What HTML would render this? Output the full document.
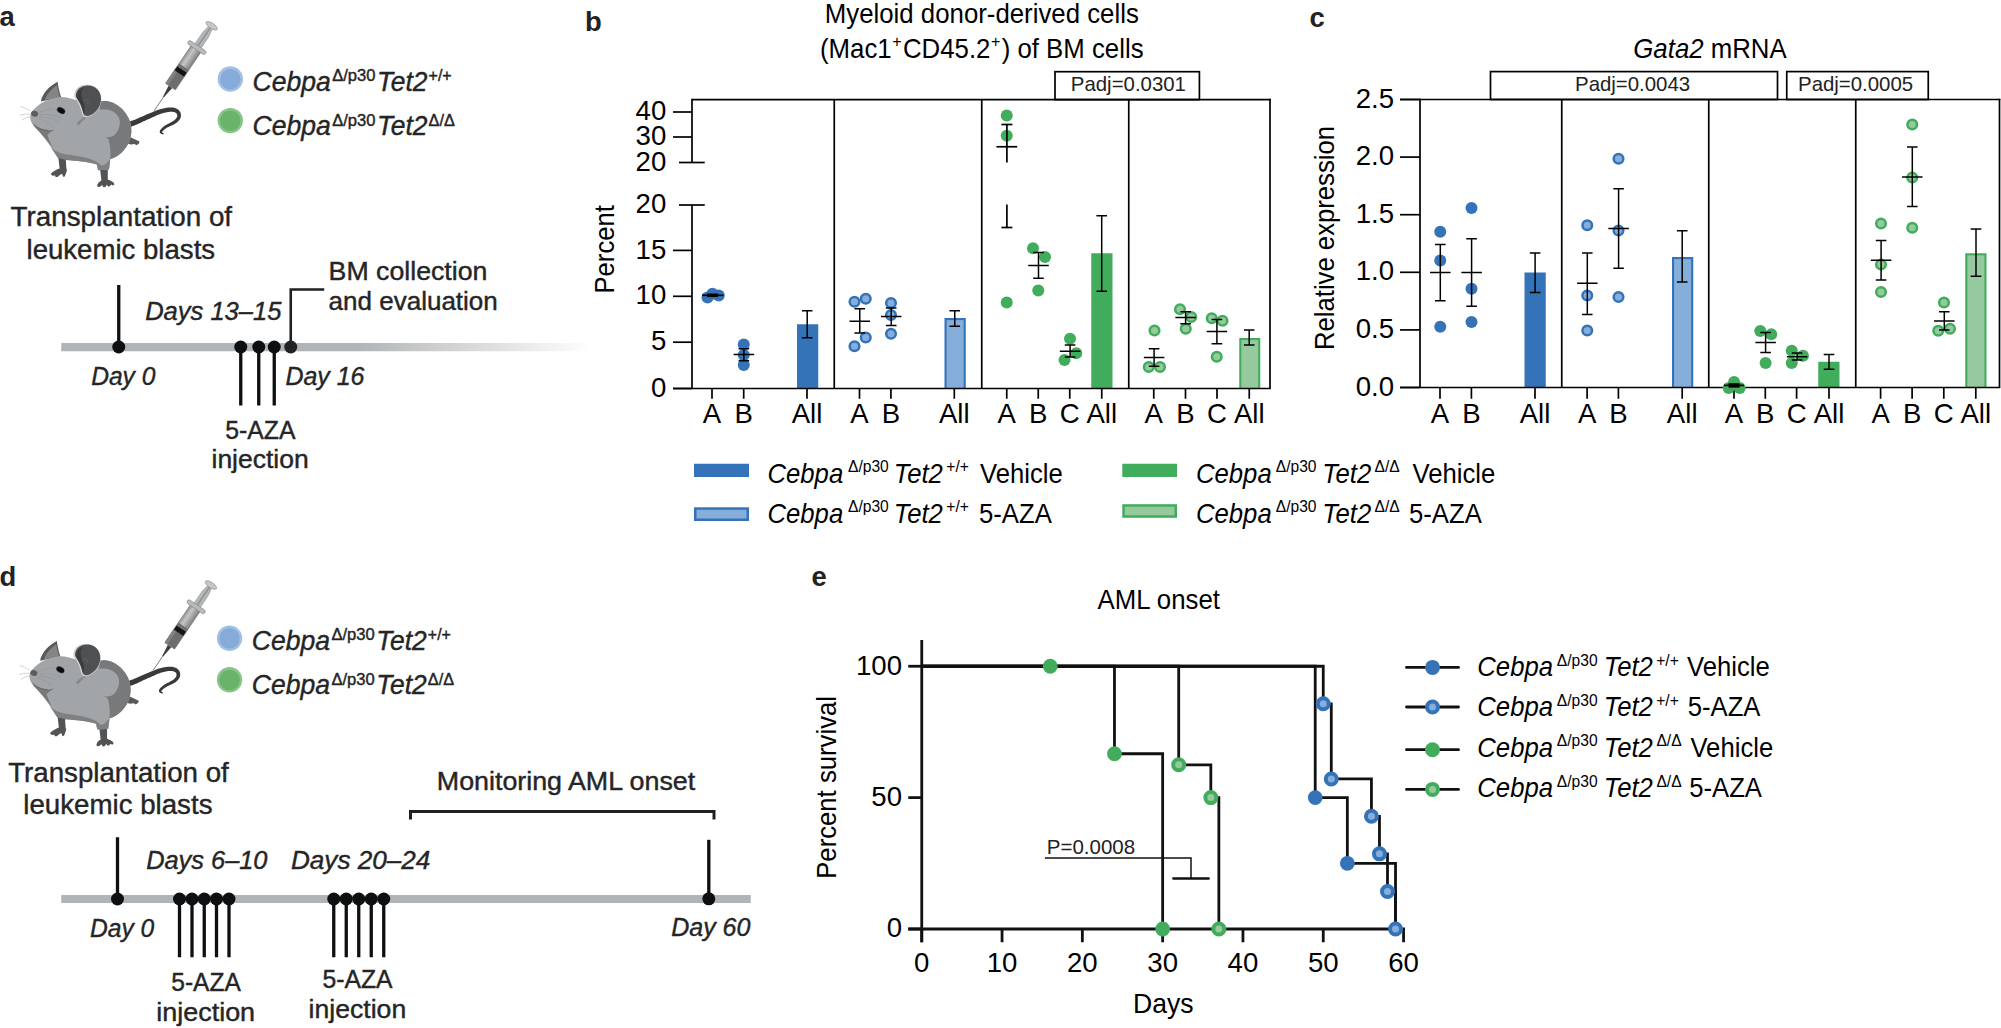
<!DOCTYPE html>
<html lang="en"><head><meta charset="utf-8"><title>Figure</title>
<style>
html,body{margin:0;padding:0;background:#fff;}
body{width:2001px;height:1028px;overflow:hidden;}
svg{display:block;font-family:"Liberation Sans",sans-serif;}
</style></head><body>
<svg width="2001" height="1028" viewBox="0 0 2001 1028">
<rect width="2001" height="1028" fill="#fff"/>

<defs>
<linearGradient id="fade" x1="0" y1="0" x2="1" y2="0">
<stop offset="0" stop-color="#b1b4b6"/><stop offset="0.555" stop-color="#b1b4b6"/><stop offset="1" stop-color="#ffffff"/>
</linearGradient>
<linearGradient id="barrel" x1="0" y1="0" x2="1" y2="0">
<stop offset="0" stop-color="#8e9092"/><stop offset="0.35" stop-color="#c4c6c8"/><stop offset="0.6" stop-color="#a9abad"/><stop offset="1" stop-color="#7c7e80"/>
</linearGradient>
<g id="mouse">
<!-- tail -->
<path d="M131.2 126.7 L132.8 126.1 L134.4 125.5 L136.0 124.8 L137.5 124.2 L139.0 123.5 L140.3 122.9 L141.7 122.2 L143.0 121.6 L144.5 120.9 L146.0 120.2 L147.5 119.5 L149.0 118.9 L150.5 118.2 L152.1 117.5 L153.7 116.8 L155.1 116.2 L156.4 115.6 L157.6 115.1 L158.7 114.6 L159.8 114.2 L160.9 113.8 L162.1 113.4 L163.3 113.1 L164.4 112.8 L165.4 112.6 L166.2 112.4 L167.0 112.2 L167.8 112.1 L168.7 111.9 L169.6 111.8 L170.4 111.8 L171.2 111.7 L171.9 111.7 L172.5 111.8 L173.1 111.9 L173.7 112.0 L174.2 112.1 L174.7 112.3 L175.1 112.5 L175.5 112.7 L175.9 112.9 L176.2 113.2 L176.5 113.4 L176.7 113.7 L176.8 113.9 L177.0 114.1 L177.1 114.4 L177.1 114.8 L177.2 115.2 L177.3 115.7 L177.3 116.1 L177.2 116.4 L177.2 116.7 L177.0 117.0 L176.9 117.4 L176.6 117.8 L176.2 118.3 L175.8 118.8 L175.4 119.3 L174.9 119.7 L174.4 120.2 L173.9 120.5 L173.4 120.9 L172.8 121.3 L172.1 121.7 L171.5 122.1 L170.8 122.4 L170.1 122.8 L169.4 123.2 L168.7 123.5 L167.9 123.9 L167.1 124.3 L166.4 124.7 L165.7 125.1 L165.0 125.6 L164.4 126.0 L163.7 126.5 L163.1 127.0 L162.5 127.5 L162.0 128.0 L161.5 128.4 L161.1 128.9 L160.7 129.4 L160.3 129.9 L160.0 130.4 L159.8 131.0 L159.7 131.6 L159.8 132.2 L160.0 132.7 L160.4 133.2 L160.8 133.6 L161.3 133.9 L161.9 134.1 L162.5 134.2 L163.0 134.3 L163.5 134.4 L163.9 133.4 L163.4 133.2 L162.9 132.9 L162.5 132.7 L162.3 132.5 L162.2 132.3 L162.1 132.1 L162.2 131.9 L162.2 131.8 L162.2 131.8 L162.3 131.7 L162.3 131.5 L162.5 131.3 L162.7 131.0 L163.0 130.7 L163.4 130.4 L163.8 130.0 L164.3 129.6 L164.8 129.2 L165.4 128.8 L166.0 128.4 L166.6 128.0 L167.2 127.6 L167.8 127.3 L168.5 126.9 L169.2 126.6 L169.9 126.3 L170.7 125.9 L171.5 125.6 L172.2 125.2 L173.0 124.9 L173.7 124.5 L174.4 124.1 L175.1 123.7 L175.8 123.2 L176.5 122.8 L177.1 122.3 L177.7 121.7 L178.4 121.1 L178.9 120.4 L179.4 119.8 L179.8 119.2 L180.2 118.6 L180.5 117.9 L180.8 117.2 L180.9 116.4 L180.9 115.6 L180.9 114.9 L180.9 114.2 L180.7 113.5 L180.6 112.9 L180.3 112.2 L179.9 111.5 L179.4 110.9 L178.9 110.3 L178.3 109.8 L177.7 109.3 L177.0 108.9 L176.3 108.5 L175.5 108.2 L174.7 108.0 L173.9 107.8 L173.1 107.6 L172.2 107.5 L171.2 107.5 L170.2 107.5 L169.2 107.5 L168.2 107.6 L167.2 107.7 L166.3 107.8 L165.4 108.0 L164.4 108.2 L163.4 108.4 L162.2 108.7 L160.9 109.0 L159.6 109.4 L158.2 109.8 L157.0 110.3 L155.8 110.8 L154.6 111.3 L153.3 111.8 L151.8 112.4 L150.2 113.0 L148.6 113.7 L147.0 114.3 L145.5 115.0 L143.9 115.7 L142.4 116.4 L141.0 117.0 L139.5 117.6 L138.2 118.3 L136.9 118.8 L135.5 119.4 L134.0 120.0 L132.5 120.6 L130.9 121.1 L129.4 121.7Z" fill="#38393b"/>
<!-- hind foot -->
<path d="M127.5 137 L131 137.5 L139.5 141.5 L139 143.5 L136.5 145.3 L134.5 144 L131 144.5 L127 143.5 Z" fill="#58595b"/>
<!-- far ear -->
<path d="M40.8 101.5 C42.5 93 49.5 86 57.6 81.8 C58.3 87 59.5 93 61.2 97.2 Z" fill="#58595b"/>
<path d="M44.5 100 C47 93.5 52 88.5 57 85 C57.6 89.5 58.8 94 60.2 97.6 Z" fill="#828486"/>
<!-- body -->
<path d="M30.8 113.5 C33 109.5 37.5 105.5 41.5 103 C47 100 54 97.5 60.5 97 C66 96.8 71 98.5 76 100 L100 101.5 C104 100.5 109 101 113 102.8 C119.5 105.8 125.5 111.5 128.8 118.5 C131.5 124.5 132 131 130.8 136.5 C129 144.5 124.5 151 118 155.5 C115.5 157.2 112.5 158.6 110.3 159.2 L109 169.5 L98 170.3 L96.8 164.5 C88 161.8 76 160.8 66 160 L58.2 158.2 C55 153.5 52 149 49.5 145 C46.5 140.5 42.5 135.5 39 131.5 C35.5 128 32.5 125 31 121.5 C30 119 30 116 30.8 113.5 Z" fill="#a2a5a7"/>
<!-- hind dark crescent -->
<path d="M100 101.5 C104 100.5 109 101 113 102.8 C119.5 105.8 125.5 111.5 128.8 118.5 C131.5 124.5 132 131 130.8 136.5 C129 144.5 124.5 151 118 155.5 C115.5 157.2 112.5 158.6 110.3 159.2 C110.8 152 110.5 145 108.5 139.5 C107.5 137.5 105 136.8 103.5 136.2 C107.5 138 112 137.5 115 134.5 C118.5 130.8 120.5 125 119.6 120 C118.6 114.5 113.5 111 108 109.8 C105 109.2 102 109.3 100 109.8 Z" fill="#78797b"/>
<!-- belly/chest shade -->
<path d="M58.2 158.2 C56 155 53.5 151 51 147.5 C55 151 60 153.5 65 154.2 C75 155.5 86 157 94 160.5 C97 161.8 99.5 163.5 101 165.5 C103 166 106 164.5 108 161.5 L110.3 159.2 L109 169.5 L98 170.3 L96.8 164.5 C88 161.8 76 160.8 66 160 Z" fill="#7e8082"/>
<!-- neck / jaw shade -->
<path d="M32.6 122.6 C35.5 126.3 39.5 128.6 44.5 129.8 C48 130.5 51.5 130.3 54.8 129.4 C51.5 131.4 49 133 47.4 135 C48.6 139 50.6 143.5 53 148 C49 143 44.5 137.5 40 132.5 C37 129.5 33.6 126.2 32.6 122.6 Z" fill="#77787a"/>
<path d="M34.5 125 C38 128.5 43 130.5 48.5 130.3" fill="none" stroke="#5f6062" stroke-width="0.7"/>
<!-- shoulder crease -->
<path d="M76.5 123.5 C80 119 85 116 90 114.5 C86 117.5 82 121 79 125 Z" fill="#85878a"/>
<!-- near ear -->
<path d="M74.2 96 C74 89 79.5 84.6 87 84.6 C95.5 84.6 101.8 91 101.4 99.5 C101 107.5 95.5 114.5 88.5 116.8 C85 117.8 82.5 116.5 81.8 113.5 C80.8 108.5 79 103.5 76 99.5 C75 98.4 74.3 97.2 74.2 96 Z" fill="#cfd0d1"/>
<path d="M75.8 95.6 C76 89.6 81 85.4 87.6 85.4 C95.6 85.4 101.4 91.4 101 99.4 C100.6 107 95.4 113.6 88.9 115.8 C85.9 116.7 83.8 115.5 83.2 112.8 C82.2 108 80.4 103.2 77.5 99.2 C76.5 98 75.8 96.9 75.8 95.6 Z" fill="#4f5052"/>
<path d="M77 95 C77.6 91.5 80 88.6 83.5 87.6 C81.5 90.5 81 94 82 97.5 C83 101 84.5 104.5 84.8 108 C85 110.5 84.6 113 83.6 113.6 C82.6 108.5 80.6 103.2 77.8 99.2 C77 98 76.8 96.5 77 95 Z" fill="#3b3c3e"/>
<path d="M83.6 102 C84 99.6 86.2 98.6 87.6 100.2 C88.4 101.3 88.2 103 87.4 104" fill="none" stroke="#636466" stroke-width="0.9"/>
<!-- eye -->
<ellipse cx="61" cy="110.5" rx="4.6" ry="3.1" transform="rotate(28 61 110.5)" fill="#55565a"/>
<ellipse cx="61.2" cy="110.6" rx="3.9" ry="2.5" transform="rotate(28 61.2 110.6)" fill="#0c0c0d"/>
<!-- nose -->
<ellipse cx="34.6" cy="113.8" rx="3.6" ry="2.9" transform="rotate(15 34.6 113.8)" fill="#5c5d5f"/>
<!-- whiskers -->
<g fill="none" stroke-width="0.45">
<path d="M30.5 111 C27 109 23.5 107.3 20.5 106.4 M30 114.3 C26.5 113.8 23 114.2 19.8 115.3 M30.2 116.6 C27 117.3 24 118.6 21.6 120.2" stroke="#9a9c9e"/>
<path d="M39 112.6 C44 110.2 49 109 53.6 108.8 M40 114.6 C47 114.2 55 115.3 62.4 117.8 M39.4 116.6 C46 117 53 118.8 58.6 121.6 M38.4 118.4 C43.4 120 48.5 122.8 52.8 126.4" stroke="#8d8f91"/>
</g>
<!-- front-left leg + paw -->
<path d="M58.4 158 L65.8 159.8 L66.4 168.6 L67 170.2 L64.8 176.6 L63 176.8 L62.4 174.2 L60.8 174.2 L57.6 177 L55.6 177 L55 175.6 L52.6 175.8 L50.6 174 L52.6 172 L56.8 169.6 L59.6 168.4 Z" fill="#525355"/>
<!-- front-right leg + paw -->
<path d="M100.2 170 L107.8 169.8 L107.8 179.6 L110.8 180.8 L113.6 182.6 L114.4 184.4 L113 185.6 L111 184.6 L110 186.2 L108.2 186.4 L106.8 184.8 L105.4 187 L103.4 187.2 L102.2 185 L100 186.8 L97.6 187 L97.2 185 L98.6 182.4 L101.4 180.4 Z" fill="#525355"/>
</g>
<g id="syringe">
<!-- drawn vertically with needle tip at (0,0) pointing down (y negative = up), rotated later -->
<line x1="0" y1="0" x2="0" y2="-19" stroke="#55565a" stroke-width="0.7"/>
<path d="M-0.5 -17 L0.5 -17 L2.2 -29.5 L-2.2 -29.5 Z" fill="#3d3e40"/>
<rect x="-5.9" y="-48" width="11.8" height="18.5" rx="1.2" fill="#6c6d6f"/>
<rect x="-5.9" y="-48" width="3.2" height="18.5" fill="#7f8183"/>
<rect x="-5.9" y="-75.5" width="11.8" height="28" fill="url(#barrel)"/>
<rect x="-5.9" y="-50.4" width="11.8" height="5" fill="#151516"/>
<rect x="-5.9" y="-53.6" width="11.8" height="3.2" fill="#6e6f71"/>
<rect x="-5.9" y="-75.5" width="11.8" height="46" fill="none" stroke="#77787a" stroke-width="0.6"/>
<rect x="-10.6" y="-78.8" width="21.2" height="4.2" rx="2.1" fill="#b9bbbd" stroke="#808284" stroke-width="0.6"/>
<path d="M-3.8 -78.8 L3.8 -78.8 L3.8 -92 L2.4 -100.5 L-2.4 -100.5 L-3.8 -92 Z" fill="#b4b6b8" stroke="#8a8c8e" stroke-width="0.5"/>
<rect x="-0.7" y="-100" width="1.4" height="21" fill="#8d8f91"/>
<ellipse cx="0" cy="-103" rx="6.6" ry="2.7" fill="#c4c6c8" stroke="#8a8c8e" stroke-width="0.6"/>
</g>
</defs>
<g id="panel-a">
<text x="-0.4" y="26.4" font-size="27.4" text-anchor="start" fill="#222" font-weight="bold">a</text>
<g transform="translate(0 0)">
<use href="#mouse"/>
<use href="#syringe" transform="translate(153.9 111.1) rotate(34.1)"/>
<circle cx="230.3" cy="79" r="12.7" fill="#a3c0e4"/><circle cx="230.3" cy="79.2" r="10.3" fill="#86abd8"/>
<circle cx="230.3" cy="120.6" r="12.7" fill="#89c48a"/><circle cx="230.3" cy="120.8" r="10.3" fill="#69b36b"/>
<text x="252.6" y="90.6" font-size="27" text-anchor="start" fill="#252526" font-style="italic" stroke="#252526" stroke-width="0.4" textLength="78.3" lengthAdjust="spacingAndGlyphs">Cebpa</text>
<text x="332.2" y="81" font-size="16" text-anchor="start" fill="#252526" stroke="#252526" stroke-width="0.4" textLength="43.3" lengthAdjust="spacingAndGlyphs">Δ/p30</text>
<text x="377" y="90.6" font-size="27" text-anchor="start" fill="#252526" font-style="italic" stroke="#252526" stroke-width="0.4" textLength="50.4" lengthAdjust="spacingAndGlyphs">Tet2</text>
<text x="428.6" y="81" font-size="16" text-anchor="start" fill="#252526" stroke="#252526" stroke-width="0.4" textLength="23" lengthAdjust="spacingAndGlyphs">+/+</text>
<text x="252.6" y="134.9" font-size="27" text-anchor="start" fill="#252526" font-style="italic" stroke="#252526" stroke-width="0.4" textLength="78.3" lengthAdjust="spacingAndGlyphs">Cebpa</text>
<text x="332.2" y="125.5" font-size="16" text-anchor="start" fill="#252526" stroke="#252526" stroke-width="0.4" textLength="43.3" lengthAdjust="spacingAndGlyphs">Δ/p30</text>
<text x="377" y="134.9" font-size="27" text-anchor="start" fill="#252526" font-style="italic" stroke="#252526" stroke-width="0.4" textLength="50.4" lengthAdjust="spacingAndGlyphs">Tet2</text>
<text x="428.6" y="125.5" font-size="16" text-anchor="start" fill="#252526" stroke="#252526" stroke-width="0.4" textLength="26.2" lengthAdjust="spacingAndGlyphs">Δ/Δ</text>
</g>
<text x="10.6" y="226.25" font-size="27" text-anchor="start" fill="#252526" stroke="#252526" stroke-width="0.4" textLength="221.5" lengthAdjust="spacingAndGlyphs">Transplantation of</text>
<text x="26.5" y="258.5" font-size="27" text-anchor="start" fill="#252526" stroke="#252526" stroke-width="0.4" textLength="188.6" lengthAdjust="spacingAndGlyphs">leukemic blasts</text>
<rect x="61.25" y="343" width="531" height="8.25" fill="url(#fade)"/>
<line x1="118.75" y1="285" x2="118.75" y2="347" stroke="#0e0f10" stroke-width="3.3" stroke-linecap="butt"/>
<circle cx="118.75" cy="347" r="6.5" fill="#0e0f10"/>
<line x1="240.75" y1="347" x2="240.75" y2="405.5" stroke="#0e0f10" stroke-width="3.3" stroke-linecap="butt"/>
<circle cx="240.75" cy="347" r="6.5" fill="#0e0f10"/>
<line x1="258.75" y1="347" x2="258.75" y2="405.5" stroke="#0e0f10" stroke-width="3.3" stroke-linecap="butt"/>
<circle cx="258.75" cy="347" r="6.5" fill="#0e0f10"/>
<line x1="274.25" y1="347" x2="274.25" y2="405.5" stroke="#0e0f10" stroke-width="3.3" stroke-linecap="butt"/>
<circle cx="274.25" cy="347" r="6.5" fill="#0e0f10"/>
<path d="M290.75 347 L290.75 289.5 L324.25 289.5" fill="none" stroke="#1f2021" stroke-width="2.6"/>
<circle cx="290.75" cy="347" r="6.5" fill="#222324"/>
<text x="145.2" y="319.5" font-size="26" text-anchor="start" fill="#252526" font-style="italic" stroke="#252526" stroke-width="0.4" textLength="136.2" lengthAdjust="spacingAndGlyphs">Days 13–15</text>
<text x="91.2" y="384.5" font-size="26" text-anchor="start" fill="#252526" font-style="italic" stroke="#252526" stroke-width="0.4" textLength="64.2" lengthAdjust="spacingAndGlyphs">Day 0</text>
<text x="285.4" y="384.5" font-size="26" text-anchor="start" fill="#252526" font-style="italic" stroke="#252526" stroke-width="0.4" textLength="79" lengthAdjust="spacingAndGlyphs">Day 16</text>
<text x="328.6" y="279.7" font-size="25" text-anchor="start" fill="#252526" stroke="#252526" stroke-width="0.4" textLength="158.8" lengthAdjust="spacingAndGlyphs">BM collection</text>
<text x="328.6" y="309.5" font-size="25" text-anchor="start" fill="#252526" stroke="#252526" stroke-width="0.4" textLength="169.2" lengthAdjust="spacingAndGlyphs">and evaluation</text>
<text x="225.3" y="439.25" font-size="25" text-anchor="start" fill="#252526" stroke="#252526" stroke-width="0.4" textLength="70.2" lengthAdjust="spacingAndGlyphs">5-AZA</text>
<text x="211.5" y="467.7" font-size="25" text-anchor="start" fill="#252526" stroke="#252526" stroke-width="0.4" textLength="97.2" lengthAdjust="spacingAndGlyphs">injection</text>
</g>
<g id="panel-d">
<text x="-0.4" y="585.6" font-size="27.4" text-anchor="start" fill="#222" font-weight="bold">d</text>
<g transform="translate(-0.75 559.2)">
<use href="#mouse"/>
<use href="#syringe" transform="translate(153.9 111.1) rotate(34.1)"/>
<circle cx="230.3" cy="79" r="12.7" fill="#a3c0e4"/><circle cx="230.3" cy="79.2" r="10.3" fill="#86abd8"/>
<circle cx="230.3" cy="120.6" r="12.7" fill="#89c48a"/><circle cx="230.3" cy="120.8" r="10.3" fill="#69b36b"/>
<text x="252.6" y="90.6" font-size="27" text-anchor="start" fill="#252526" font-style="italic" stroke="#252526" stroke-width="0.4" textLength="78.3" lengthAdjust="spacingAndGlyphs">Cebpa</text>
<text x="332.2" y="81" font-size="16" text-anchor="start" fill="#252526" stroke="#252526" stroke-width="0.4" textLength="43.3" lengthAdjust="spacingAndGlyphs">Δ/p30</text>
<text x="377" y="90.6" font-size="27" text-anchor="start" fill="#252526" font-style="italic" stroke="#252526" stroke-width="0.4" textLength="50.4" lengthAdjust="spacingAndGlyphs">Tet2</text>
<text x="428.6" y="81" font-size="16" text-anchor="start" fill="#252526" stroke="#252526" stroke-width="0.4" textLength="23" lengthAdjust="spacingAndGlyphs">+/+</text>
<text x="252.6" y="134.9" font-size="27" text-anchor="start" fill="#252526" font-style="italic" stroke="#252526" stroke-width="0.4" textLength="78.3" lengthAdjust="spacingAndGlyphs">Cebpa</text>
<text x="332.2" y="125.5" font-size="16" text-anchor="start" fill="#252526" stroke="#252526" stroke-width="0.4" textLength="43.3" lengthAdjust="spacingAndGlyphs">Δ/p30</text>
<text x="377" y="134.9" font-size="27" text-anchor="start" fill="#252526" font-style="italic" stroke="#252526" stroke-width="0.4" textLength="50.4" lengthAdjust="spacingAndGlyphs">Tet2</text>
<text x="428.6" y="125.5" font-size="16" text-anchor="start" fill="#252526" stroke="#252526" stroke-width="0.4" textLength="26.2" lengthAdjust="spacingAndGlyphs">Δ/Δ</text>
</g>
<text x="8.2" y="782.2" font-size="27" text-anchor="start" fill="#252526" stroke="#252526" stroke-width="0.4" textLength="220.6" lengthAdjust="spacingAndGlyphs">Transplantation of</text>
<text x="23.3" y="814.2" font-size="27" text-anchor="start" fill="#252526" stroke="#252526" stroke-width="0.4" textLength="189.2" lengthAdjust="spacingAndGlyphs">leukemic blasts</text>
<rect x="61.25" y="895" width="689.5" height="8" fill="#b1b4b6"/>
<line x1="117.5" y1="837.25" x2="117.5" y2="899" stroke="#0e0f10" stroke-width="3.3" stroke-linecap="butt"/>
<circle cx="117.5" cy="899" r="6.5" fill="#0e0f10"/>
<line x1="179.5" y1="899" x2="179.5" y2="957.25" stroke="#0e0f10" stroke-width="3.3" stroke-linecap="butt"/>
<circle cx="179.5" cy="899" r="6.5" fill="#0e0f10"/>
<line x1="192" y1="899" x2="192" y2="957.25" stroke="#0e0f10" stroke-width="3.3" stroke-linecap="butt"/>
<circle cx="192" cy="899" r="6.5" fill="#0e0f10"/>
<line x1="204.25" y1="899" x2="204.25" y2="957.25" stroke="#0e0f10" stroke-width="3.3" stroke-linecap="butt"/>
<circle cx="204.25" cy="899" r="6.5" fill="#0e0f10"/>
<line x1="216.5" y1="899" x2="216.5" y2="957.25" stroke="#0e0f10" stroke-width="3.3" stroke-linecap="butt"/>
<circle cx="216.5" cy="899" r="6.5" fill="#0e0f10"/>
<line x1="229" y1="899" x2="229" y2="957.25" stroke="#0e0f10" stroke-width="3.3" stroke-linecap="butt"/>
<circle cx="229" cy="899" r="6.5" fill="#0e0f10"/>
<line x1="333.75" y1="899" x2="333.75" y2="957.25" stroke="#0e0f10" stroke-width="3.3" stroke-linecap="butt"/>
<circle cx="333.75" cy="899" r="6.5" fill="#0e0f10"/>
<line x1="346.25" y1="899" x2="346.25" y2="957.25" stroke="#0e0f10" stroke-width="3.3" stroke-linecap="butt"/>
<circle cx="346.25" cy="899" r="6.5" fill="#0e0f10"/>
<line x1="358.75" y1="899" x2="358.75" y2="957.25" stroke="#0e0f10" stroke-width="3.3" stroke-linecap="butt"/>
<circle cx="358.75" cy="899" r="6.5" fill="#0e0f10"/>
<line x1="371.25" y1="899" x2="371.25" y2="957.25" stroke="#0e0f10" stroke-width="3.3" stroke-linecap="butt"/>
<circle cx="371.25" cy="899" r="6.5" fill="#0e0f10"/>
<line x1="383.75" y1="899" x2="383.75" y2="957.25" stroke="#0e0f10" stroke-width="3.3" stroke-linecap="butt"/>
<circle cx="383.75" cy="899" r="6.5" fill="#0e0f10"/>
<line x1="708.8" y1="839.8" x2="708.8" y2="899" stroke="#0e0f10" stroke-width="3.3" stroke-linecap="butt"/>
<circle cx="708.8" cy="898.8" r="6.5" fill="#0e0f10"/>
<path d="M410.5 819.4 L410.5 811.4 L714 811.4 L714 819.4" fill="none" stroke="#1f2021" stroke-width="3"/>
<text x="436.8" y="790" font-size="25" text-anchor="start" fill="#252526" stroke="#252526" stroke-width="0.4" textLength="258.4" lengthAdjust="spacingAndGlyphs">Monitoring AML onset</text>
<text x="146.2" y="868.5" font-size="26" text-anchor="start" fill="#252526" font-style="italic" stroke="#252526" stroke-width="0.4" textLength="121.3" lengthAdjust="spacingAndGlyphs">Days 6–10</text>
<text x="291" y="868.5" font-size="26" text-anchor="start" fill="#252526" font-style="italic" stroke="#252526" stroke-width="0.4" textLength="139.3" lengthAdjust="spacingAndGlyphs">Days 20–24</text>
<text x="90" y="936.5" font-size="26" text-anchor="start" fill="#252526" font-style="italic" stroke="#252526" stroke-width="0.4" textLength="64.2" lengthAdjust="spacingAndGlyphs">Day 0</text>
<text x="671.2" y="936" font-size="26" text-anchor="start" fill="#252526" font-style="italic" stroke="#252526" stroke-width="0.4" textLength="79.2" lengthAdjust="spacingAndGlyphs">Day 60</text>
<text x="171.25" y="991" font-size="25" text-anchor="start" fill="#252526" stroke="#252526" stroke-width="0.4" textLength="69.5" lengthAdjust="spacingAndGlyphs">5-AZA</text>
<text x="156.3" y="1020.5" font-size="25" text-anchor="start" fill="#252526" stroke="#252526" stroke-width="0.4" textLength="98.8" lengthAdjust="spacingAndGlyphs">injection</text>
<text x="322.5" y="988" font-size="25" text-anchor="start" fill="#252526" stroke="#252526" stroke-width="0.4" textLength="70" lengthAdjust="spacingAndGlyphs">5-AZA</text>
<text x="308.6" y="1017.5" font-size="25" text-anchor="start" fill="#252526" stroke="#252526" stroke-width="0.4" textLength="97.6" lengthAdjust="spacingAndGlyphs">injection</text>
</g>
<g id="panel-b">
<text x="585.1" y="30.8" font-size="27.4" text-anchor="start" fill="#222" font-weight="bold">b</text>
<text x="981.8" y="23.3" font-size="27.6" text-anchor="middle" fill="#000" textLength="314.02" lengthAdjust="spacingAndGlyphs">Myeloid donor-derived cells</text>
<text x="820" y="58" font-size="27.6" textLength="323.60" lengthAdjust="spacingAndGlyphs">(Mac1<tspan font-size="17.16" dy="-11.5" dx="0.5">+</tspan><tspan dy="11.5" dx="1.5">CD45.2</tspan><tspan font-size="17.16" dy="-11.5" dx="0.5">+</tspan><tspan dy="11.5" dx="1.5">) of BM cells</tspan></text>
<rect x="797" y="324.25" width="21.25" height="64.25" fill="#3573b9"/>
<rect x="944.5" y="318" width="21.25" height="70.5" fill="#3573b9"/>
<rect x="946.6" y="320.1" width="17.05" height="68.4" fill="#86aeda"/>
<rect x="1091.25" y="253.25" width="21.25" height="135.25" fill="#41ad5c"/>
<rect x="1239.25" y="338" width="21.0" height="50.5" fill="#41ad5c"/>
<rect x="1241.35" y="340.1" width="16.8" height="48.4" fill="#97c99e"/>
<line x1="692" y1="99.6" x2="1270.85" y2="99.6" stroke="#000" stroke-width="1.7" stroke-linecap="butt"/>
<line x1="1270" y1="98.75" x2="1270" y2="388.5" stroke="#000" stroke-width="1.7" stroke-linecap="butt"/>
<line x1="834.25" y1="99.6" x2="834.25" y2="388.5" stroke="#000" stroke-width="1.7" stroke-linecap="butt"/>
<line x1="981.75" y1="99.6" x2="981.75" y2="388.5" stroke="#000" stroke-width="1.7" stroke-linecap="butt"/>
<line x1="1128.75" y1="99.6" x2="1128.75" y2="388.5" stroke="#000" stroke-width="1.7" stroke-linecap="butt"/>
<line x1="692" y1="98.75" x2="692" y2="162.5" stroke="#000" stroke-width="1.7" stroke-linecap="butt"/>
<line x1="692" y1="205" x2="692" y2="388.5" stroke="#000" stroke-width="1.7" stroke-linecap="butt"/>
<line x1="679" y1="162.5" x2="704.75" y2="162.5" stroke="#000" stroke-width="1.7" stroke-linecap="butt"/>
<line x1="679" y1="205" x2="704.75" y2="205" stroke="#000" stroke-width="1.7" stroke-linecap="butt"/>
<line x1="673" y1="112" x2="692" y2="112" stroke="#000" stroke-width="1.7" stroke-linecap="butt"/>
<line x1="673" y1="137" x2="692" y2="137" stroke="#000" stroke-width="1.7" stroke-linecap="butt"/>
<line x1="673" y1="250.4" x2="692" y2="250.4" stroke="#000" stroke-width="1.7" stroke-linecap="butt"/>
<line x1="673" y1="296.3" x2="692" y2="296.3" stroke="#000" stroke-width="1.7" stroke-linecap="butt"/>
<line x1="673" y1="342.2" x2="692" y2="342.2" stroke="#000" stroke-width="1.7" stroke-linecap="butt"/>
<line x1="673" y1="388.5" x2="692" y2="388.5" stroke="#000" stroke-width="1.7" stroke-linecap="butt"/>
<text x="666.3" y="120.1" font-size="27.6" text-anchor="end" fill="#000">40</text>
<text x="666.3" y="145.1" font-size="27.6" text-anchor="end" fill="#000">30</text>
<text x="666.3" y="170.6" font-size="27.6" text-anchor="end" fill="#000">20</text>
<text x="666.3" y="213.1" font-size="27.6" text-anchor="end" fill="#000">20</text>
<text x="666.3" y="258.5" font-size="27.6" text-anchor="end" fill="#000">15</text>
<text x="666.3" y="304.40000000000003" font-size="27.6" text-anchor="end" fill="#000">10</text>
<text x="666.3" y="350.3" font-size="27.6" text-anchor="end" fill="#000">5</text>
<text x="666.3" y="396.6" font-size="27.6" text-anchor="end" fill="#000">0</text>
<line x1="673" y1="388.5" x2="1270.75" y2="388.5" stroke="#000" stroke-width="1.7" stroke-linecap="butt"/>
<line x1="712" y1="388.5" x2="712" y2="398.75" stroke="#000" stroke-width="1.7" stroke-linecap="butt"/>
<text x="712" y="423.4" font-size="27.6" text-anchor="middle" fill="#000">A</text>
<line x1="743.7" y1="388.5" x2="743.7" y2="398.75" stroke="#000" stroke-width="1.7" stroke-linecap="butt"/>
<text x="743.7" y="423.4" font-size="27.6" text-anchor="middle" fill="#000">B</text>
<line x1="807" y1="388.5" x2="807" y2="398.75" stroke="#000" stroke-width="1.7" stroke-linecap="butt"/>
<text x="807" y="423.4" font-size="27.6" text-anchor="middle" fill="#000">All</text>
<line x1="859.5" y1="388.5" x2="859.5" y2="398.75" stroke="#000" stroke-width="1.7" stroke-linecap="butt"/>
<text x="859.5" y="423.4" font-size="27.6" text-anchor="middle" fill="#000">A</text>
<line x1="890.9" y1="388.5" x2="890.9" y2="398.75" stroke="#000" stroke-width="1.7" stroke-linecap="butt"/>
<text x="890.9" y="423.4" font-size="27.6" text-anchor="middle" fill="#000">B</text>
<line x1="954.3" y1="388.5" x2="954.3" y2="398.75" stroke="#000" stroke-width="1.7" stroke-linecap="butt"/>
<text x="954.3" y="423.4" font-size="27.6" text-anchor="middle" fill="#000">All</text>
<line x1="1006.75" y1="388.5" x2="1006.75" y2="398.75" stroke="#000" stroke-width="1.7" stroke-linecap="butt"/>
<text x="1006.75" y="423.4" font-size="27.6" text-anchor="middle" fill="#000">A</text>
<line x1="1038.25" y1="388.5" x2="1038.25" y2="398.75" stroke="#000" stroke-width="1.7" stroke-linecap="butt"/>
<text x="1038.25" y="423.4" font-size="27.6" text-anchor="middle" fill="#000">B</text>
<line x1="1069.75" y1="388.5" x2="1069.75" y2="398.75" stroke="#000" stroke-width="1.7" stroke-linecap="butt"/>
<text x="1069.75" y="423.4" font-size="27.6" text-anchor="middle" fill="#000">C</text>
<line x1="1101.75" y1="388.5" x2="1101.75" y2="398.75" stroke="#000" stroke-width="1.7" stroke-linecap="butt"/>
<text x="1101.75" y="423.4" font-size="27.6" text-anchor="middle" fill="#000">All</text>
<line x1="1153.75" y1="388.5" x2="1153.75" y2="398.75" stroke="#000" stroke-width="1.7" stroke-linecap="butt"/>
<text x="1153.75" y="423.4" font-size="27.6" text-anchor="middle" fill="#000">A</text>
<line x1="1185.5" y1="388.5" x2="1185.5" y2="398.75" stroke="#000" stroke-width="1.7" stroke-linecap="butt"/>
<text x="1185.5" y="423.4" font-size="27.6" text-anchor="middle" fill="#000">B</text>
<line x1="1217" y1="388.5" x2="1217" y2="398.75" stroke="#000" stroke-width="1.7" stroke-linecap="butt"/>
<text x="1217" y="423.4" font-size="27.6" text-anchor="middle" fill="#000">C</text>
<line x1="1249.25" y1="388.5" x2="1249.25" y2="398.75" stroke="#000" stroke-width="1.7" stroke-linecap="butt"/>
<text x="1249.25" y="423.4" font-size="27.6" text-anchor="middle" fill="#000">All</text>
<text transform="translate(613.9 249.3) rotate(-90)" font-size="27.6" text-anchor="middle" fill="#000" textLength="88.53" lengthAdjust="spacingAndGlyphs">Percent</text>
<rect x="1055" y="71.7" width="144.4" height="27.9" fill="none" stroke="#000" stroke-width="1.7"/>
<text x="1128.4" y="90.9" font-size="20.4" text-anchor="middle" fill="#222">Padj=0.0301</text>
<circle cx="707.5" cy="297.5" r="6" fill="#3573b9"/>
<circle cx="712.5" cy="293.75" r="6" fill="#3573b9"/>
<circle cx="718.75" cy="295.5" r="6" fill="#3573b9"/>
<line x1="702" y1="295.3" x2="723.5" y2="295.3" stroke="#000" stroke-width="1.7" stroke-linecap="butt"/>
<line x1="707" y1="295.3" x2="718" y2="295.3" stroke="#000" stroke-width="3.6" stroke-linecap="butt"/>
<circle cx="743.75" cy="344.5" r="6" fill="#3573b9"/>
<circle cx="743.75" cy="355" r="6" fill="#3573b9"/>
<circle cx="743.75" cy="365" r="6" fill="#3573b9"/>
<line x1="743.9" y1="348.75" x2="743.9" y2="360.75" stroke="#000" stroke-width="1.5" stroke-linecap="butt"/>
<line x1="738.6" y1="348.75" x2="749.1999999999999" y2="348.75" stroke="#000" stroke-width="1.5" stroke-linecap="butt"/>
<line x1="738.6" y1="360.75" x2="749.1999999999999" y2="360.75" stroke="#000" stroke-width="1.5" stroke-linecap="butt"/>
<line x1="733.65" y1="354.5" x2="754.15" y2="354.5" stroke="#000" stroke-width="1.5" stroke-linecap="butt"/>
<line x1="807.2" y1="310.75" x2="807.2" y2="337.75" stroke="#000" stroke-width="1.5" stroke-linecap="butt"/>
<line x1="801.9000000000001" y1="310.75" x2="812.5" y2="310.75" stroke="#000" stroke-width="1.5" stroke-linecap="butt"/>
<line x1="801.9000000000001" y1="337.75" x2="812.5" y2="337.75" stroke="#000" stroke-width="1.5" stroke-linecap="butt"/>
<circle cx="854.5" cy="301.75" r="4.8" fill="#86aeda" stroke="#3573b9" stroke-width="2.5"/>
<circle cx="865.75" cy="298.75" r="4.8" fill="#86aeda" stroke="#3573b9" stroke-width="2.5"/>
<circle cx="865.75" cy="337.5" r="4.8" fill="#86aeda" stroke="#3573b9" stroke-width="2.5"/>
<circle cx="854.5" cy="346.25" r="4.8" fill="#86aeda" stroke="#3573b9" stroke-width="2.5"/>
<line x1="859.75" y1="308.75" x2="859.75" y2="333" stroke="#000" stroke-width="1.5" stroke-linecap="butt"/>
<line x1="854.45" y1="308.75" x2="865.05" y2="308.75" stroke="#000" stroke-width="1.5" stroke-linecap="butt"/>
<line x1="854.45" y1="333" x2="865.05" y2="333" stroke="#000" stroke-width="1.5" stroke-linecap="butt"/>
<line x1="849.5" y1="321.25" x2="870.0" y2="321.25" stroke="#000" stroke-width="1.5" stroke-linecap="butt"/>
<circle cx="891" cy="303" r="4.8" fill="#86aeda" stroke="#3573b9" stroke-width="2.5"/>
<circle cx="891" cy="315" r="4.8" fill="#86aeda" stroke="#3573b9" stroke-width="2.5"/>
<circle cx="891" cy="333.75" r="4.8" fill="#86aeda" stroke="#3573b9" stroke-width="2.5"/>
<line x1="891.2" y1="308" x2="891.2" y2="325.5" stroke="#000" stroke-width="1.5" stroke-linecap="butt"/>
<line x1="885.9000000000001" y1="308" x2="896.5" y2="308" stroke="#000" stroke-width="1.5" stroke-linecap="butt"/>
<line x1="885.9000000000001" y1="325.5" x2="896.5" y2="325.5" stroke="#000" stroke-width="1.5" stroke-linecap="butt"/>
<line x1="880.95" y1="316.5" x2="901.45" y2="316.5" stroke="#000" stroke-width="1.5" stroke-linecap="butt"/>
<line x1="954.75" y1="310.75" x2="954.75" y2="326.25" stroke="#000" stroke-width="1.5" stroke-linecap="butt"/>
<line x1="949.45" y1="310.75" x2="960.05" y2="310.75" stroke="#000" stroke-width="1.5" stroke-linecap="butt"/>
<line x1="949.45" y1="326.25" x2="960.05" y2="326.25" stroke="#000" stroke-width="1.5" stroke-linecap="butt"/>
<circle cx="1006.75" cy="115.5" r="6" fill="#41ad5c"/>
<circle cx="1006.75" cy="135.75" r="6" fill="#41ad5c"/>
<circle cx="1006.75" cy="302.5" r="6" fill="#41ad5c"/>
<line x1="1006.9" y1="124.5" x2="1006.9" y2="162.5" stroke="#000" stroke-width="1.7" stroke-linecap="butt"/>
<line x1="1001.4" y1="124.5" x2="1012.4" y2="124.5" stroke="#000" stroke-width="1.7" stroke-linecap="butt"/>
<line x1="996.4" y1="146.75" x2="1017.2" y2="146.75" stroke="#000" stroke-width="1.7" stroke-linecap="butt"/>
<line x1="1006.9" y1="204.5" x2="1006.9" y2="227.5" stroke="#000" stroke-width="1.7" stroke-linecap="butt"/>
<line x1="1001.4" y1="227.5" x2="1012.4" y2="227.5" stroke="#000" stroke-width="1.7" stroke-linecap="butt"/>
<circle cx="1033" cy="248.25" r="6" fill="#41ad5c"/>
<circle cx="1045" cy="257" r="6" fill="#41ad5c"/>
<circle cx="1038.25" cy="290.5" r="6" fill="#41ad5c"/>
<line x1="1038.5" y1="252.5" x2="1038.5" y2="278.25" stroke="#000" stroke-width="1.5" stroke-linecap="butt"/>
<line x1="1033.2" y1="252.5" x2="1043.8" y2="252.5" stroke="#000" stroke-width="1.5" stroke-linecap="butt"/>
<line x1="1033.2" y1="278.25" x2="1043.8" y2="278.25" stroke="#000" stroke-width="1.5" stroke-linecap="butt"/>
<line x1="1028.25" y1="265.5" x2="1048.75" y2="265.5" stroke="#000" stroke-width="1.5" stroke-linecap="butt"/>
<circle cx="1070" cy="338.75" r="6" fill="#41ad5c"/>
<circle cx="1064.5" cy="360" r="6" fill="#41ad5c"/>
<circle cx="1076.25" cy="353.25" r="6" fill="#41ad5c"/>
<line x1="1070.1" y1="345" x2="1070.1" y2="357" stroke="#000" stroke-width="1.5" stroke-linecap="butt"/>
<line x1="1064.8" y1="345" x2="1075.3999999999999" y2="345" stroke="#000" stroke-width="1.5" stroke-linecap="butt"/>
<line x1="1064.8" y1="357" x2="1075.3999999999999" y2="357" stroke="#000" stroke-width="1.5" stroke-linecap="butt"/>
<line x1="1059.85" y1="351.25" x2="1080.35" y2="351.25" stroke="#000" stroke-width="1.5" stroke-linecap="butt"/>
<line x1="1101.7" y1="215.75" x2="1101.7" y2="291.25" stroke="#000" stroke-width="1.5" stroke-linecap="butt"/>
<line x1="1096.4" y1="215.75" x2="1107.0" y2="215.75" stroke="#000" stroke-width="1.5" stroke-linecap="butt"/>
<line x1="1096.4" y1="291.25" x2="1107.0" y2="291.25" stroke="#000" stroke-width="1.5" stroke-linecap="butt"/>
<circle cx="1154.5" cy="330.5" r="4.8" fill="#97c99e" stroke="#41ad5c" stroke-width="2.5"/>
<circle cx="1148.75" cy="367" r="4.8" fill="#97c99e" stroke="#41ad5c" stroke-width="2.5"/>
<circle cx="1160" cy="367" r="4.8" fill="#97c99e" stroke="#41ad5c" stroke-width="2.5"/>
<line x1="1154.1" y1="348.75" x2="1154.1" y2="366.25" stroke="#000" stroke-width="1.5" stroke-linecap="butt"/>
<line x1="1148.8" y1="348.75" x2="1159.3999999999999" y2="348.75" stroke="#000" stroke-width="1.5" stroke-linecap="butt"/>
<line x1="1148.8" y1="366.25" x2="1159.3999999999999" y2="366.25" stroke="#000" stroke-width="1.5" stroke-linecap="butt"/>
<line x1="1143.85" y1="357.5" x2="1164.35" y2="357.5" stroke="#000" stroke-width="1.5" stroke-linecap="butt"/>
<circle cx="1180" cy="309.25" r="4.8" fill="#97c99e" stroke="#41ad5c" stroke-width="2.5"/>
<circle cx="1191.25" cy="317" r="4.8" fill="#97c99e" stroke="#41ad5c" stroke-width="2.5"/>
<circle cx="1185.75" cy="328.75" r="4.8" fill="#97c99e" stroke="#41ad5c" stroke-width="2.5"/>
<line x1="1185.6" y1="311.75" x2="1185.6" y2="323.75" stroke="#000" stroke-width="1.5" stroke-linecap="butt"/>
<line x1="1180.3" y1="311.75" x2="1190.8999999999999" y2="311.75" stroke="#000" stroke-width="1.5" stroke-linecap="butt"/>
<line x1="1180.3" y1="323.75" x2="1190.8999999999999" y2="323.75" stroke="#000" stroke-width="1.5" stroke-linecap="butt"/>
<line x1="1175.35" y1="317.5" x2="1195.85" y2="317.5" stroke="#000" stroke-width="1.5" stroke-linecap="butt"/>
<circle cx="1211.75" cy="318.25" r="4.8" fill="#97c99e" stroke="#41ad5c" stroke-width="2.5"/>
<circle cx="1222.5" cy="320.75" r="4.8" fill="#97c99e" stroke="#41ad5c" stroke-width="2.5"/>
<circle cx="1216.75" cy="356.75" r="4.8" fill="#97c99e" stroke="#41ad5c" stroke-width="2.5"/>
<line x1="1216.9" y1="319.5" x2="1216.9" y2="343.75" stroke="#000" stroke-width="1.5" stroke-linecap="butt"/>
<line x1="1211.6000000000001" y1="319.5" x2="1222.2" y2="319.5" stroke="#000" stroke-width="1.5" stroke-linecap="butt"/>
<line x1="1211.6000000000001" y1="343.75" x2="1222.2" y2="343.75" stroke="#000" stroke-width="1.5" stroke-linecap="butt"/>
<line x1="1206.65" y1="331.5" x2="1227.15" y2="331.5" stroke="#000" stroke-width="1.5" stroke-linecap="butt"/>
<line x1="1249.2" y1="330" x2="1249.2" y2="345" stroke="#000" stroke-width="1.5" stroke-linecap="butt"/>
<line x1="1243.9" y1="330" x2="1254.5" y2="330" stroke="#000" stroke-width="1.5" stroke-linecap="butt"/>
<line x1="1243.9" y1="345" x2="1254.5" y2="345" stroke="#000" stroke-width="1.5" stroke-linecap="butt"/>
<rect x="694" y="463.75" width="55" height="13.25" fill="#3573b9"/>
<rect x="695.25" y="508.55" width="52.5" height="11.2" fill="#86aeda" stroke="#3573b9" stroke-width="2.5"/>
<rect x="1122.3" y="463.75" width="54.7" height="13.25" fill="#41ad5c"/>
<rect x="1123.55" y="505.45" width="52.2" height="11.1" fill="#97c99e" stroke="#41ad5c" stroke-width="2.5"/>
<text x="767.5" y="482.6" font-size="27.6" text-anchor="start" fill="#000" font-style="italic" textLength="75.70" lengthAdjust="spacingAndGlyphs">Cebpa</text>
<text x="848" y="472.0" font-size="15.6" text-anchor="start" fill="#000">Δ/p30</text>
<text x="893.8" y="482.6" font-size="27.6" text-anchor="start" fill="#000" font-style="italic" textLength="49.05" lengthAdjust="spacingAndGlyphs">Tet2</text>
<text x="946.3" y="472.0" font-size="15.6" text-anchor="start" fill="#000">+/+</text>
<text x="980" y="482.6" font-size="27.6" text-anchor="start" fill="#000" textLength="82.84" lengthAdjust="spacingAndGlyphs">Vehicle</text>
<text x="767.5" y="522.8" font-size="27.6" text-anchor="start" fill="#000" font-style="italic" textLength="75.70" lengthAdjust="spacingAndGlyphs">Cebpa</text>
<text x="848" y="512.1999999999999" font-size="15.6" text-anchor="start" fill="#000">Δ/p30</text>
<text x="893.8" y="522.8" font-size="27.6" text-anchor="start" fill="#000" font-style="italic" textLength="49.05" lengthAdjust="spacingAndGlyphs">Tet2</text>
<text x="946.3" y="512.1999999999999" font-size="15.6" text-anchor="start" fill="#000">+/+</text>
<text x="979" y="522.8" font-size="27.6" text-anchor="start" fill="#000" textLength="72.81" lengthAdjust="spacingAndGlyphs">5-AZA</text>
<text x="1196" y="482.6" font-size="27.6" text-anchor="start" fill="#000" font-style="italic" textLength="75.70" lengthAdjust="spacingAndGlyphs">Cebpa</text>
<text x="1275.75" y="472.0" font-size="15.6" text-anchor="start" fill="#000">Δ/p30</text>
<text x="1322.2" y="482.6" font-size="27.6" text-anchor="start" fill="#000" font-style="italic" textLength="49.05" lengthAdjust="spacingAndGlyphs">Tet2</text>
<text x="1374.5" y="472.0" font-size="15.6" text-anchor="start" fill="#000">Δ/Δ</text>
<text x="1412.5" y="482.6" font-size="27.6" text-anchor="start" fill="#000" textLength="82.84" lengthAdjust="spacingAndGlyphs">Vehicle</text>
<text x="1196" y="522.8" font-size="27.6" text-anchor="start" fill="#000" font-style="italic" textLength="75.70" lengthAdjust="spacingAndGlyphs">Cebpa</text>
<text x="1275.75" y="512.1999999999999" font-size="15.6" text-anchor="start" fill="#000">Δ/p30</text>
<text x="1322.2" y="522.8" font-size="27.6" text-anchor="start" fill="#000" font-style="italic" textLength="49.05" lengthAdjust="spacingAndGlyphs">Tet2</text>
<text x="1374.5" y="512.1999999999999" font-size="15.6" text-anchor="start" fill="#000">Δ/Δ</text>
<text x="1409" y="522.8" font-size="27.6" text-anchor="start" fill="#000" textLength="72.81" lengthAdjust="spacingAndGlyphs">5-AZA</text>
</g>
<g id="panel-c">
<text x="1309.4" y="26.6" font-size="27.4" text-anchor="start" fill="#222" font-weight="bold">c</text>
<text x="1633.3" y="58" font-size="27.6" textLength="153.41" lengthAdjust="spacingAndGlyphs"><tspan font-style="italic">Gata2</tspan> mRNA</text>
<rect x="1524.5" y="272.5" width="21.25" height="115.0" fill="#3573b9"/>
<rect x="1672" y="257" width="21.25" height="130.5" fill="#3573b9"/>
<rect x="1674.1" y="259.1" width="17.05" height="128.4" fill="#86aeda"/>
<rect x="1818.25" y="361.75" width="21.25" height="25.75" fill="#41ad5c"/>
<rect x="1965.25" y="253.25" width="21.25" height="134.25" fill="#41ad5c"/>
<rect x="1967.35" y="255.35" width="17.05" height="132.15" fill="#97c99e"/>
<line x1="1400" y1="99.5" x2="2000.35" y2="99.5" stroke="#000" stroke-width="1.7" stroke-linecap="butt"/>
<line x1="1999.5" y1="98.65" x2="1999.5" y2="387.5" stroke="#000" stroke-width="1.7" stroke-linecap="butt"/>
<line x1="1420" y1="98.65" x2="1420" y2="387.5" stroke="#000" stroke-width="1.7" stroke-linecap="butt"/>
<line x1="1561.75" y1="99.5" x2="1561.75" y2="387.5" stroke="#000" stroke-width="1.7" stroke-linecap="butt"/>
<line x1="1708.75" y1="99.5" x2="1708.75" y2="387.5" stroke="#000" stroke-width="1.7" stroke-linecap="butt"/>
<line x1="1855.75" y1="99.5" x2="1855.75" y2="387.5" stroke="#000" stroke-width="1.7" stroke-linecap="butt"/>
<line x1="1400" y1="387.5" x2="2000.25" y2="387.5" stroke="#000" stroke-width="1.7" stroke-linecap="butt"/>
<line x1="1400" y1="387.5" x2="1420" y2="387.5" stroke="#000" stroke-width="1.7" stroke-linecap="butt"/>
<text x="1394" y="395.6" font-size="27.6" text-anchor="end" fill="#000">0.0</text>
<line x1="1400" y1="329.9" x2="1420" y2="329.9" stroke="#000" stroke-width="1.7" stroke-linecap="butt"/>
<text x="1394" y="338.0" font-size="27.6" text-anchor="end" fill="#000">0.5</text>
<line x1="1400" y1="272.3" x2="1420" y2="272.3" stroke="#000" stroke-width="1.7" stroke-linecap="butt"/>
<text x="1394" y="280.40000000000003" font-size="27.6" text-anchor="end" fill="#000">1.0</text>
<line x1="1400" y1="214.7" x2="1420" y2="214.7" stroke="#000" stroke-width="1.7" stroke-linecap="butt"/>
<text x="1394" y="222.79999999999998" font-size="27.6" text-anchor="end" fill="#000">1.5</text>
<line x1="1400" y1="157.1" x2="1420" y2="157.1" stroke="#000" stroke-width="1.7" stroke-linecap="butt"/>
<text x="1394" y="165.2" font-size="27.6" text-anchor="end" fill="#000">2.0</text>
<line x1="1400" y1="99.5" x2="1420" y2="99.5" stroke="#000" stroke-width="1.7" stroke-linecap="butt"/>
<text x="1394" y="107.6" font-size="27.6" text-anchor="end" fill="#000">2.5</text>
<line x1="1440" y1="387.5" x2="1440" y2="398.75" stroke="#000" stroke-width="1.7" stroke-linecap="butt"/>
<text x="1440" y="423.4" font-size="27.6" text-anchor="middle" fill="#000">A</text>
<line x1="1471.4" y1="387.5" x2="1471.4" y2="398.75" stroke="#000" stroke-width="1.7" stroke-linecap="butt"/>
<text x="1471.4" y="423.4" font-size="27.6" text-anchor="middle" fill="#000">B</text>
<line x1="1535" y1="387.5" x2="1535" y2="398.75" stroke="#000" stroke-width="1.7" stroke-linecap="butt"/>
<text x="1535" y="423.4" font-size="27.6" text-anchor="middle" fill="#000">All</text>
<line x1="1587.1" y1="387.5" x2="1587.1" y2="398.75" stroke="#000" stroke-width="1.7" stroke-linecap="butt"/>
<text x="1587.1" y="423.4" font-size="27.6" text-anchor="middle" fill="#000">A</text>
<line x1="1618.4" y1="387.5" x2="1618.4" y2="398.75" stroke="#000" stroke-width="1.7" stroke-linecap="butt"/>
<text x="1618.4" y="423.4" font-size="27.6" text-anchor="middle" fill="#000">B</text>
<line x1="1682.2" y1="387.5" x2="1682.2" y2="398.75" stroke="#000" stroke-width="1.7" stroke-linecap="butt"/>
<text x="1682.2" y="423.4" font-size="27.6" text-anchor="middle" fill="#000">All</text>
<line x1="1734" y1="387.5" x2="1734" y2="398.75" stroke="#000" stroke-width="1.7" stroke-linecap="butt"/>
<text x="1734" y="423.4" font-size="27.6" text-anchor="middle" fill="#000">A</text>
<line x1="1765.3" y1="387.5" x2="1765.3" y2="398.75" stroke="#000" stroke-width="1.7" stroke-linecap="butt"/>
<text x="1765.3" y="423.4" font-size="27.6" text-anchor="middle" fill="#000">B</text>
<line x1="1796.6" y1="387.5" x2="1796.6" y2="398.75" stroke="#000" stroke-width="1.7" stroke-linecap="butt"/>
<text x="1796.6" y="423.4" font-size="27.6" text-anchor="middle" fill="#000">C</text>
<line x1="1829" y1="387.5" x2="1829" y2="398.75" stroke="#000" stroke-width="1.7" stroke-linecap="butt"/>
<text x="1829" y="423.4" font-size="27.6" text-anchor="middle" fill="#000">All</text>
<line x1="1880.6" y1="387.5" x2="1880.6" y2="398.75" stroke="#000" stroke-width="1.7" stroke-linecap="butt"/>
<text x="1880.6" y="423.4" font-size="27.6" text-anchor="middle" fill="#000">A</text>
<line x1="1912.1" y1="387.5" x2="1912.1" y2="398.75" stroke="#000" stroke-width="1.7" stroke-linecap="butt"/>
<text x="1912.1" y="423.4" font-size="27.6" text-anchor="middle" fill="#000">B</text>
<line x1="1943.8" y1="387.5" x2="1943.8" y2="398.75" stroke="#000" stroke-width="1.7" stroke-linecap="butt"/>
<text x="1943.8" y="423.4" font-size="27.6" text-anchor="middle" fill="#000">C</text>
<line x1="1975.8" y1="387.5" x2="1975.8" y2="398.75" stroke="#000" stroke-width="1.7" stroke-linecap="butt"/>
<text x="1975.8" y="423.4" font-size="27.6" text-anchor="middle" fill="#000">All</text>
<text transform="translate(1333.75 238) rotate(-90)" font-size="27.6" text-anchor="middle" fill="#000" textLength="224.17" lengthAdjust="spacingAndGlyphs">Relative expression</text>
<rect x="1490.5" y="71.6" width="287" height="27.9" fill="none" stroke="#000" stroke-width="1.7"/>
<text x="1632.6" y="90.5" font-size="20.4" text-anchor="middle" fill="#222">Padj=0.0043</text>
<rect x="1786.75" y="71.6" width="141.5" height="27.9" fill="none" stroke="#000" stroke-width="1.7"/>
<text x="1855.6" y="90.5" font-size="20.4" text-anchor="middle" fill="#222">Padj=0.0005</text>
<circle cx="1440.25" cy="231.75" r="6" fill="#3573b9"/>
<circle cx="1440.25" cy="260.5" r="6" fill="#3573b9"/>
<circle cx="1440.25" cy="326.75" r="6" fill="#3573b9"/>
<line x1="1440.3" y1="244.5" x2="1440.3" y2="300.75" stroke="#000" stroke-width="1.5" stroke-linecap="butt"/>
<line x1="1435.0" y1="244.5" x2="1445.6" y2="244.5" stroke="#000" stroke-width="1.5" stroke-linecap="butt"/>
<line x1="1435.0" y1="300.75" x2="1445.6" y2="300.75" stroke="#000" stroke-width="1.5" stroke-linecap="butt"/>
<line x1="1430.05" y1="272.5" x2="1450.55" y2="272.5" stroke="#000" stroke-width="1.5" stroke-linecap="butt"/>
<circle cx="1471.5" cy="208" r="6" fill="#3573b9"/>
<circle cx="1471.5" cy="288.75" r="6" fill="#3573b9"/>
<circle cx="1471.5" cy="322" r="6" fill="#3573b9"/>
<line x1="1471.6" y1="238.75" x2="1471.6" y2="306.25" stroke="#000" stroke-width="1.5" stroke-linecap="butt"/>
<line x1="1466.3" y1="238.75" x2="1476.8999999999999" y2="238.75" stroke="#000" stroke-width="1.5" stroke-linecap="butt"/>
<line x1="1466.3" y1="306.25" x2="1476.8999999999999" y2="306.25" stroke="#000" stroke-width="1.5" stroke-linecap="butt"/>
<line x1="1461.35" y1="272.5" x2="1481.85" y2="272.5" stroke="#000" stroke-width="1.5" stroke-linecap="butt"/>
<line x1="1535.1" y1="253" x2="1535.1" y2="292.5" stroke="#000" stroke-width="1.5" stroke-linecap="butt"/>
<line x1="1529.8" y1="253" x2="1540.3999999999999" y2="253" stroke="#000" stroke-width="1.5" stroke-linecap="butt"/>
<line x1="1529.8" y1="292.5" x2="1540.3999999999999" y2="292.5" stroke="#000" stroke-width="1.5" stroke-linecap="butt"/>
<circle cx="1587.25" cy="225.25" r="4.8" fill="#86aeda" stroke="#3573b9" stroke-width="2.5"/>
<circle cx="1587.25" cy="295.5" r="4.8" fill="#86aeda" stroke="#3573b9" stroke-width="2.5"/>
<circle cx="1587.25" cy="330.5" r="4.8" fill="#86aeda" stroke="#3573b9" stroke-width="2.5"/>
<line x1="1587.3" y1="253" x2="1587.3" y2="314.5" stroke="#000" stroke-width="1.5" stroke-linecap="butt"/>
<line x1="1582.0" y1="253" x2="1592.6" y2="253" stroke="#000" stroke-width="1.5" stroke-linecap="butt"/>
<line x1="1582.0" y1="314.5" x2="1592.6" y2="314.5" stroke="#000" stroke-width="1.5" stroke-linecap="butt"/>
<line x1="1577.05" y1="283.25" x2="1597.55" y2="283.25" stroke="#000" stroke-width="1.5" stroke-linecap="butt"/>
<circle cx="1618.5" cy="158.75" r="4.8" fill="#86aeda" stroke="#3573b9" stroke-width="2.5"/>
<circle cx="1618.5" cy="230.5" r="4.8" fill="#86aeda" stroke="#3573b9" stroke-width="2.5"/>
<circle cx="1618.5" cy="297" r="4.8" fill="#86aeda" stroke="#3573b9" stroke-width="2.5"/>
<line x1="1618.6" y1="188.75" x2="1618.6" y2="268.25" stroke="#000" stroke-width="1.5" stroke-linecap="butt"/>
<line x1="1613.3" y1="188.75" x2="1623.8999999999999" y2="188.75" stroke="#000" stroke-width="1.5" stroke-linecap="butt"/>
<line x1="1613.3" y1="268.25" x2="1623.8999999999999" y2="268.25" stroke="#000" stroke-width="1.5" stroke-linecap="butt"/>
<line x1="1608.35" y1="228.5" x2="1628.85" y2="228.5" stroke="#000" stroke-width="1.5" stroke-linecap="butt"/>
<line x1="1682.2" y1="230.75" x2="1682.2" y2="282" stroke="#000" stroke-width="1.5" stroke-linecap="butt"/>
<line x1="1676.9" y1="230.75" x2="1687.5" y2="230.75" stroke="#000" stroke-width="1.5" stroke-linecap="butt"/>
<line x1="1676.9" y1="282" x2="1687.5" y2="282" stroke="#000" stroke-width="1.5" stroke-linecap="butt"/>
<circle cx="1728.6" cy="388" r="6" fill="#41ad5c"/>
<circle cx="1734.1" cy="382" r="6" fill="#41ad5c"/>
<circle cx="1739.7" cy="388" r="6" fill="#41ad5c"/>
<line x1="1724" y1="385.4" x2="1744" y2="385.4" stroke="#000" stroke-width="1.7" stroke-linecap="butt"/>
<line x1="1728.5" y1="385.4" x2="1739.6" y2="385.4" stroke="#000" stroke-width="4.4" stroke-linecap="butt"/>
<circle cx="1760.25" cy="331" r="6" fill="#41ad5c"/>
<circle cx="1771.25" cy="334.25" r="6" fill="#41ad5c"/>
<circle cx="1765.6" cy="363" r="6" fill="#41ad5c"/>
<line x1="1765.6" y1="332.5" x2="1765.6" y2="352.5" stroke="#000" stroke-width="1.5" stroke-linecap="butt"/>
<line x1="1760.3" y1="332.5" x2="1770.8999999999999" y2="332.5" stroke="#000" stroke-width="1.5" stroke-linecap="butt"/>
<line x1="1760.3" y1="352.5" x2="1770.8999999999999" y2="352.5" stroke="#000" stroke-width="1.5" stroke-linecap="butt"/>
<line x1="1755.35" y1="342.5" x2="1775.85" y2="342.5" stroke="#000" stroke-width="1.5" stroke-linecap="butt"/>
<circle cx="1791.75" cy="350.75" r="6" fill="#41ad5c"/>
<circle cx="1803" cy="355.75" r="6" fill="#41ad5c"/>
<circle cx="1791.75" cy="363" r="6" fill="#41ad5c"/>
<line x1="1797.1" y1="353" x2="1797.1" y2="360" stroke="#000" stroke-width="1.5" stroke-linecap="butt"/>
<line x1="1791.8" y1="353" x2="1802.3999999999999" y2="353" stroke="#000" stroke-width="1.5" stroke-linecap="butt"/>
<line x1="1791.8" y1="360" x2="1802.3999999999999" y2="360" stroke="#000" stroke-width="1.5" stroke-linecap="butt"/>
<line x1="1786.85" y1="356.75" x2="1807.35" y2="356.75" stroke="#000" stroke-width="1.5" stroke-linecap="butt"/>
<line x1="1829" y1="354.5" x2="1829" y2="369.25" stroke="#000" stroke-width="1.5" stroke-linecap="butt"/>
<line x1="1823.7" y1="354.5" x2="1834.3" y2="354.5" stroke="#000" stroke-width="1.5" stroke-linecap="butt"/>
<line x1="1823.7" y1="369.25" x2="1834.3" y2="369.25" stroke="#000" stroke-width="1.5" stroke-linecap="butt"/>
<circle cx="1881" cy="223.5" r="4.8" fill="#97c99e" stroke="#41ad5c" stroke-width="2.5"/>
<circle cx="1881" cy="264.5" r="4.8" fill="#97c99e" stroke="#41ad5c" stroke-width="2.5"/>
<circle cx="1881" cy="292" r="4.8" fill="#97c99e" stroke="#41ad5c" stroke-width="2.5"/>
<line x1="1881.1" y1="240.5" x2="1881.1" y2="280" stroke="#000" stroke-width="1.5" stroke-linecap="butt"/>
<line x1="1875.8" y1="240.5" x2="1886.3999999999999" y2="240.5" stroke="#000" stroke-width="1.5" stroke-linecap="butt"/>
<line x1="1875.8" y1="280" x2="1886.3999999999999" y2="280" stroke="#000" stroke-width="1.5" stroke-linecap="butt"/>
<line x1="1870.85" y1="260.25" x2="1891.35" y2="260.25" stroke="#000" stroke-width="1.5" stroke-linecap="butt"/>
<circle cx="1912.25" cy="124.5" r="4.8" fill="#97c99e" stroke="#41ad5c" stroke-width="2.5"/>
<circle cx="1912.25" cy="177.5" r="4.8" fill="#97c99e" stroke="#41ad5c" stroke-width="2.5"/>
<circle cx="1912.25" cy="227.75" r="4.8" fill="#97c99e" stroke="#41ad5c" stroke-width="2.5"/>
<line x1="1912.3" y1="147" x2="1912.3" y2="206.5" stroke="#000" stroke-width="1.5" stroke-linecap="butt"/>
<line x1="1907.0" y1="147" x2="1917.6" y2="147" stroke="#000" stroke-width="1.5" stroke-linecap="butt"/>
<line x1="1907.0" y1="206.5" x2="1917.6" y2="206.5" stroke="#000" stroke-width="1.5" stroke-linecap="butt"/>
<line x1="1902.05" y1="177" x2="1922.55" y2="177" stroke="#000" stroke-width="1.5" stroke-linecap="butt"/>
<circle cx="1944" cy="302.5" r="4.8" fill="#97c99e" stroke="#41ad5c" stroke-width="2.5"/>
<circle cx="1938.25" cy="330.75" r="4.8" fill="#97c99e" stroke="#41ad5c" stroke-width="2.5"/>
<circle cx="1950" cy="328.75" r="4.8" fill="#97c99e" stroke="#41ad5c" stroke-width="2.5"/>
<line x1="1944.3" y1="311.75" x2="1944.3" y2="330" stroke="#000" stroke-width="1.5" stroke-linecap="butt"/>
<line x1="1939.0" y1="311.75" x2="1949.6" y2="311.75" stroke="#000" stroke-width="1.5" stroke-linecap="butt"/>
<line x1="1939.0" y1="330" x2="1949.6" y2="330" stroke="#000" stroke-width="1.5" stroke-linecap="butt"/>
<line x1="1934.05" y1="321" x2="1954.55" y2="321" stroke="#000" stroke-width="1.5" stroke-linecap="butt"/>
<line x1="1976" y1="229" x2="1976" y2="276.25" stroke="#000" stroke-width="1.5" stroke-linecap="butt"/>
<line x1="1970.7" y1="229" x2="1981.3" y2="229" stroke="#000" stroke-width="1.5" stroke-linecap="butt"/>
<line x1="1970.7" y1="276.25" x2="1981.3" y2="276.25" stroke="#000" stroke-width="1.5" stroke-linecap="butt"/>
</g>
<g id="panel-e">
<text x="811.4" y="585.6" font-size="27.4" text-anchor="start" fill="#222" font-weight="bold">e</text>
<text x="1158.75" y="608.75" font-size="27.6" text-anchor="middle" fill="#000" textLength="122.36" lengthAdjust="spacingAndGlyphs">AML onset</text>
<line x1="921.75" y1="640" x2="921.75" y2="942.25" stroke="#111" stroke-width="2.8" stroke-linecap="butt"/>
<line x1="908.25" y1="929.0" x2="1405" y2="929.0" stroke="#111" stroke-width="2.8" stroke-linecap="butt"/>
<line x1="908.25" y1="929.0" x2="921.75" y2="929.0" stroke="#111" stroke-width="2.8" stroke-linecap="butt"/>
<text x="902" y="937.3" font-size="27.6" text-anchor="end" fill="#000">0</text>
<line x1="908.25" y1="797.62" x2="921.75" y2="797.62" stroke="#111" stroke-width="2.8" stroke-linecap="butt"/>
<text x="902" y="805.92" font-size="27.6" text-anchor="end" fill="#000">50</text>
<line x1="908.25" y1="666.25" x2="921.75" y2="666.25" stroke="#111" stroke-width="2.8" stroke-linecap="butt"/>
<text x="902" y="674.55" font-size="27.6" text-anchor="end" fill="#000">100</text>
<line x1="921.75" y1="929.0" x2="921.75" y2="942.25" stroke="#111" stroke-width="2.8" stroke-linecap="butt"/>
<text x="921.75" y="971.8" font-size="27.6" text-anchor="middle" fill="#000">0</text>
<line x1="1002.05" y1="929.0" x2="1002.05" y2="942.25" stroke="#111" stroke-width="2.8" stroke-linecap="butt"/>
<text x="1002.05" y="971.8" font-size="27.6" text-anchor="middle" fill="#000">10</text>
<line x1="1082.35" y1="929.0" x2="1082.35" y2="942.25" stroke="#111" stroke-width="2.8" stroke-linecap="butt"/>
<text x="1082.35" y="971.8" font-size="27.6" text-anchor="middle" fill="#000">20</text>
<line x1="1162.65" y1="929.0" x2="1162.65" y2="942.25" stroke="#111" stroke-width="2.8" stroke-linecap="butt"/>
<text x="1162.65" y="971.8" font-size="27.6" text-anchor="middle" fill="#000">30</text>
<line x1="1242.95" y1="929.0" x2="1242.95" y2="942.25" stroke="#111" stroke-width="2.8" stroke-linecap="butt"/>
<text x="1242.95" y="971.8" font-size="27.6" text-anchor="middle" fill="#000">40</text>
<line x1="1323.25" y1="929.0" x2="1323.25" y2="942.25" stroke="#111" stroke-width="2.8" stroke-linecap="butt"/>
<text x="1323.25" y="971.8" font-size="27.6" text-anchor="middle" fill="#000">50</text>
<line x1="1403.55" y1="929.0" x2="1403.55" y2="942.25" stroke="#111" stroke-width="2.8" stroke-linecap="butt"/>
<text x="1403.55" y="971.8" font-size="27.6" text-anchor="middle" fill="#000">60</text>
<text x="1163.25" y="1013" font-size="27.6" text-anchor="middle" fill="#000" textLength="60.59" lengthAdjust="spacingAndGlyphs">Days</text>
<text transform="translate(835.8 787.4) rotate(-90)" font-size="27.6" text-anchor="middle" fill="#000" textLength="182.75" lengthAdjust="spacingAndGlyphs">Percent survival</text>
<path d="M921.75 666.25 L1114.47 666.25 L1114.47 753.75 L1162.65 753.75 L1162.65 929.0" fill="none" stroke="#111" stroke-width="2.8" stroke-linejoin="miter"/>
<path d="M921.75 666.25 L1178.71 666.25 L1178.71 764.78 L1210.83 764.78 L1210.83 797.62 L1218.86 797.62 L1218.86 929.0" fill="none" stroke="#111" stroke-width="2.8" stroke-linejoin="miter"/>
<path d="M921.75 666.25 L1315.22 666.25 L1315.22 797.62 L1347.34 797.62 L1347.34 863.31 L1395.52 863.31 L1395.52 929.0" fill="none" stroke="#111" stroke-width="2.8" stroke-linejoin="miter"/>
<path d="M921.75 666.25 L1323.25 666.25 L1323.25 703.82 L1331.28 703.82 L1331.28 778.97 L1371.43 778.97 L1371.43 816.28 L1379.46 816.28 L1379.46 853.85 L1387.49 853.85 L1387.49 891.43 L1395.52 891.43 L1395.52 929.0" fill="none" stroke="#111" stroke-width="2.8" stroke-linejoin="miter"/>
<circle cx="1050.23" cy="666.25" r="7.4" fill="#41ad5c"/>
<circle cx="1114.47" cy="753.75" r="7.4" fill="#41ad5c"/>
<circle cx="1162.65" cy="929.0" r="7.4" fill="#41ad5c"/>
<circle cx="1178.71" cy="764.78" r="5.5" fill="#97c99e" stroke="#41ad5c" stroke-width="4"/>
<circle cx="1210.83" cy="797.62" r="5.5" fill="#97c99e" stroke="#41ad5c" stroke-width="4"/>
<circle cx="1218.86" cy="929.0" r="5.5" fill="#97c99e" stroke="#41ad5c" stroke-width="4"/>
<circle cx="1315.22" cy="797.62" r="7.4" fill="#3573b9"/>
<circle cx="1347.34" cy="863.31" r="7.4" fill="#3573b9"/>
<circle cx="1323.25" cy="703.82" r="5.5" fill="#86aeda" stroke="#3573b9" stroke-width="4"/>
<circle cx="1331.28" cy="778.97" r="5.5" fill="#86aeda" stroke="#3573b9" stroke-width="4"/>
<circle cx="1371.43" cy="816.28" r="5.5" fill="#86aeda" stroke="#3573b9" stroke-width="4"/>
<circle cx="1379.46" cy="853.85" r="5.5" fill="#86aeda" stroke="#3573b9" stroke-width="4"/>
<circle cx="1387.49" cy="891.43" r="5.5" fill="#86aeda" stroke="#3573b9" stroke-width="4"/>
<circle cx="1395.52" cy="929.0" r="5.5" fill="#86aeda" stroke="#3573b9" stroke-width="4"/>
<text x="1046.8" y="853.9" font-size="20.5" text-anchor="start" fill="#222">P=0.0008</text>
<path d="M1044.9 857.9 L1191 857.9 L1191 878.4" fill="none" stroke="#111" stroke-width="1.5"/>
<line x1="1173.4" y1="878.4" x2="1208.6" y2="878.4" stroke="#111" stroke-width="2.5" stroke-linecap="round"/>
<line x1="1406.5" y1="667.4" x2="1458.5" y2="667.4" stroke="#111" stroke-width="2.8" stroke-linecap="round"/>
<circle cx="1432.5" cy="667.4" r="7.5" fill="#3573b9"/>
<text x="1477.3" y="676.4" font-size="27.6" text-anchor="start" fill="#000" font-style="italic" textLength="75.70" lengthAdjust="spacingAndGlyphs">Cebpa</text>
<text x="1556.8" y="665.8" font-size="15.6" text-anchor="start" fill="#000">Δ/p30</text>
<text x="1603.8" y="676.4" font-size="27.6" text-anchor="start" fill="#000" font-style="italic" textLength="49.05" lengthAdjust="spacingAndGlyphs">Tet2</text>
<text x="1656.2" y="665.8" font-size="15.6" text-anchor="start" fill="#000">+/+</text>
<text x="1687" y="676.4" font-size="27.6" text-anchor="start" fill="#000" textLength="82.84" lengthAdjust="spacingAndGlyphs">Vehicle</text>
<line x1="1406.5" y1="707" x2="1458.5" y2="707" stroke="#111" stroke-width="2.8" stroke-linecap="round"/>
<circle cx="1432.5" cy="707" r="5.5" fill="#86aeda" stroke="#3573b9" stroke-width="4"/>
<text x="1477.3" y="716.4" font-size="27.6" text-anchor="start" fill="#000" font-style="italic" textLength="75.70" lengthAdjust="spacingAndGlyphs">Cebpa</text>
<text x="1556.8" y="705.8" font-size="15.6" text-anchor="start" fill="#000">Δ/p30</text>
<text x="1603.8" y="716.4" font-size="27.6" text-anchor="start" fill="#000" font-style="italic" textLength="49.05" lengthAdjust="spacingAndGlyphs">Tet2</text>
<text x="1656.2" y="705.8" font-size="15.6" text-anchor="start" fill="#000">+/+</text>
<text x="1687.7" y="716.4" font-size="27.6" text-anchor="start" fill="#000" textLength="72.81" lengthAdjust="spacingAndGlyphs">5-AZA</text>
<line x1="1406.5" y1="749.7" x2="1458.5" y2="749.7" stroke="#111" stroke-width="2.8" stroke-linecap="round"/>
<circle cx="1432.5" cy="749.7" r="7.5" fill="#41ad5c"/>
<text x="1477.3" y="756.8" font-size="27.6" text-anchor="start" fill="#000" font-style="italic" textLength="75.70" lengthAdjust="spacingAndGlyphs">Cebpa</text>
<text x="1556.8" y="746.1999999999999" font-size="15.6" text-anchor="start" fill="#000">Δ/p30</text>
<text x="1603.8" y="756.8" font-size="27.6" text-anchor="start" fill="#000" font-style="italic" textLength="49.05" lengthAdjust="spacingAndGlyphs">Tet2</text>
<text x="1656.4" y="746.1999999999999" font-size="15.6" text-anchor="start" fill="#000">Δ/Δ</text>
<text x="1690.4" y="756.8" font-size="27.6" text-anchor="start" fill="#000" textLength="82.84" lengthAdjust="spacingAndGlyphs">Vehicle</text>
<line x1="1406.5" y1="789.4" x2="1458.5" y2="789.4" stroke="#111" stroke-width="2.8" stroke-linecap="round"/>
<circle cx="1432.5" cy="789.4" r="5.5" fill="#97c99e" stroke="#41ad5c" stroke-width="4"/>
<text x="1477.3" y="797.2" font-size="27.6" text-anchor="start" fill="#000" font-style="italic" textLength="75.70" lengthAdjust="spacingAndGlyphs">Cebpa</text>
<text x="1556.8" y="786.6" font-size="15.6" text-anchor="start" fill="#000">Δ/p30</text>
<text x="1603.8" y="797.2" font-size="27.6" text-anchor="start" fill="#000" font-style="italic" textLength="49.05" lengthAdjust="spacingAndGlyphs">Tet2</text>
<text x="1656.4" y="786.6" font-size="15.6" text-anchor="start" fill="#000">Δ/Δ</text>
<text x="1689.2" y="797.2" font-size="27.6" text-anchor="start" fill="#000" textLength="72.81" lengthAdjust="spacingAndGlyphs">5-AZA</text>
</g>
</svg></body></html>
